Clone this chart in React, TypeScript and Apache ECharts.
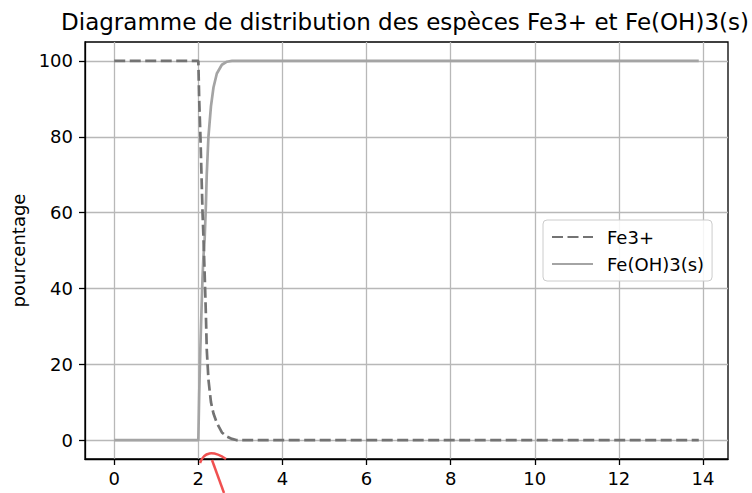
import React, { useEffect, useRef } from "react";
import * as echarts from "echarts";

// pH values (x)
const pH = [0, 1, 2.0, 2.02, 2.05, 2.08, 2.1, 2.12, 2.15, 2.18, 2.2, 2.24, 2.3, 2.36, 2.44, 2.56, 2.68, 2.8, 2.9, 3.2, 4, 6, 8, 10, 12, 13.9];
// % Fe3+ (dashed)
const fe3 = [100, 100, 100, 90, 80, 68, 60, 54, 44, 33, 24, 16, 10, 7, 4.5, 2, 0.9, 0.3, 0, 0, 0, 0, 0, 0, 0, 0];
// % Fe(OH)3(s) (solid)
const feoh3 = [0, 0, 0, 12, 25, 36, 43, 48, 53, 62, 70, 80, 88, 93, 96.7, 99, 99.8, 100, 100, 100, 100, 100, 100, 100, 100, 100];

const xTicks = [0, 2, 4, 6, 8, 10, 12, 14];
const yTicks = [0, 20, 40, 60, 80, 100];

const titleText = "Diagramme de distribution des espèces Fe3+ et Fe(OH)3(s)";
const yName = "pourcentage";
const seriesNames = ["Fe3+", "Fe(OH)3(s)"];

const FONT = "DejaVu Sans";

export default function App() {
  const ref = useRef<HTMLDivElement>(null);
  useEffect(() => {
    if (!ref.current) return;
    const chart = echarts.init(ref.current, undefined, { renderer: "svg" });
    const gridLine = { color: "#b8b8b8", width: 1.3 };
    chart.setOption({
      animation: false,
      backgroundColor: "#fff",
      grid: {
        left: 85,
        right: 24,
        top: 42,
        bottom: 34,
        show: true,
        borderColor: "#000",
        borderWidth: 1.3,
        backgroundColor: "transparent",
        outerBoundsMode: "none",
      },
      xAxis: {
        type: "value",
        min: -0.695,
        max: 14.595,
        axisLine: { show: true, onZero: false, lineStyle: { color: "#000", width: 1.3 } },
        axisTick: { show: true, length: 6, customValues: xTicks, lineStyle: { color: "#000", width: 1.3 } },
        axisLabel: { customValues: xTicks, fontSize: 18, fontFamily: FONT, color: "#000", margin: 10 },
        splitLine: { show: true, lineStyle: gridLine },
      },
      yAxis: {
        type: "value",
        min: -5,
        max: 105,
        name: yName,
        nameLocation: "middle",
        nameRotate: 90,
        nameGap: 56,
        nameTextStyle: { fontSize: 18, fontFamily: FONT, color: "#000" },
        axisLine: { show: true, onZero: false, lineStyle: { color: "#000", width: 1.3 } },
        axisTick: { show: true, length: 6, customValues: yTicks, lineStyle: { color: "#000", width: 1.3 } },
        axisLabel: { customValues: yTicks, fontSize: 18, fontFamily: FONT, color: "#000", margin: 12 },
        splitLine: { show: true, lineStyle: gridLine },
      },
      legend: {
        orient: "vertical",
        left: 543,
        top: 220,
        padding: [8, 8, 8, 8],
        itemGap: 9,
        itemWidth: 41,
        itemHeight: 14,
        backgroundColor: "rgba(255,255,255,0.85)",
        borderColor: "#cccccc",
        borderWidth: 1,
        borderRadius: 4,
        itemStyle: { opacity: 0 },
        textStyle: { fontSize: 18, fontFamily: FONT, color: "#000", padding: [0, 0, 0, 9] },
        data: seriesNames,
      },
      series: [
        {
          name: seriesNames[0],
          type: "line",
          symbol: "none",
          showSymbol: false,
          data: pH.map((x, i) => [x, fe3[i]]),
          lineStyle: { color: "#737373", width: 2.7, type: [11, 4.5] },
          itemStyle: { color: "#737373" },
          z: 3,
        },
        {
          name: seriesNames[1],
          type: "line",
          symbol: "none",
          showSymbol: false,
          data: pH.map((x, i) => [x, feoh3[i]]),
          lineStyle: { color: "#a4a4a4", width: 2.7 },
          itemStyle: { color: "#a4a4a4" },
          z: 2,
        },
      ],
      graphic: [
        {
          type: "text",
          x: 405,
          y: 22,
          style: {
            text: titleText,
            fontSize: 23,
            fontFamily: FONT,
            fill: "#000",
            textAlign: "center",
            textVerticalAlign: "middle",
          },
        },
        {
          type: "bezierCurve",
          shape: { x1: 200, y1: 463, cpx1: 206, cpy1: 446, x2: 226, y2: 459 },
          style: { stroke: "#f05050", lineWidth: 2.5, fill: "none" },
          z: 100,
        },
        {
          type: "line",
          shape: { x1: 212, y1: 460, x2: 224, y2: 493 },
          style: { stroke: "#f05050", lineWidth: 2.5 },
          z: 100,
        },
      ],
    });
    return () => chart.dispose();
  }, []);
  return (
    <div
      ref={ref}
      style={{ position: "absolute", left: 0, top: 0, width: 752, height: 493 }}
    />
  );
}
